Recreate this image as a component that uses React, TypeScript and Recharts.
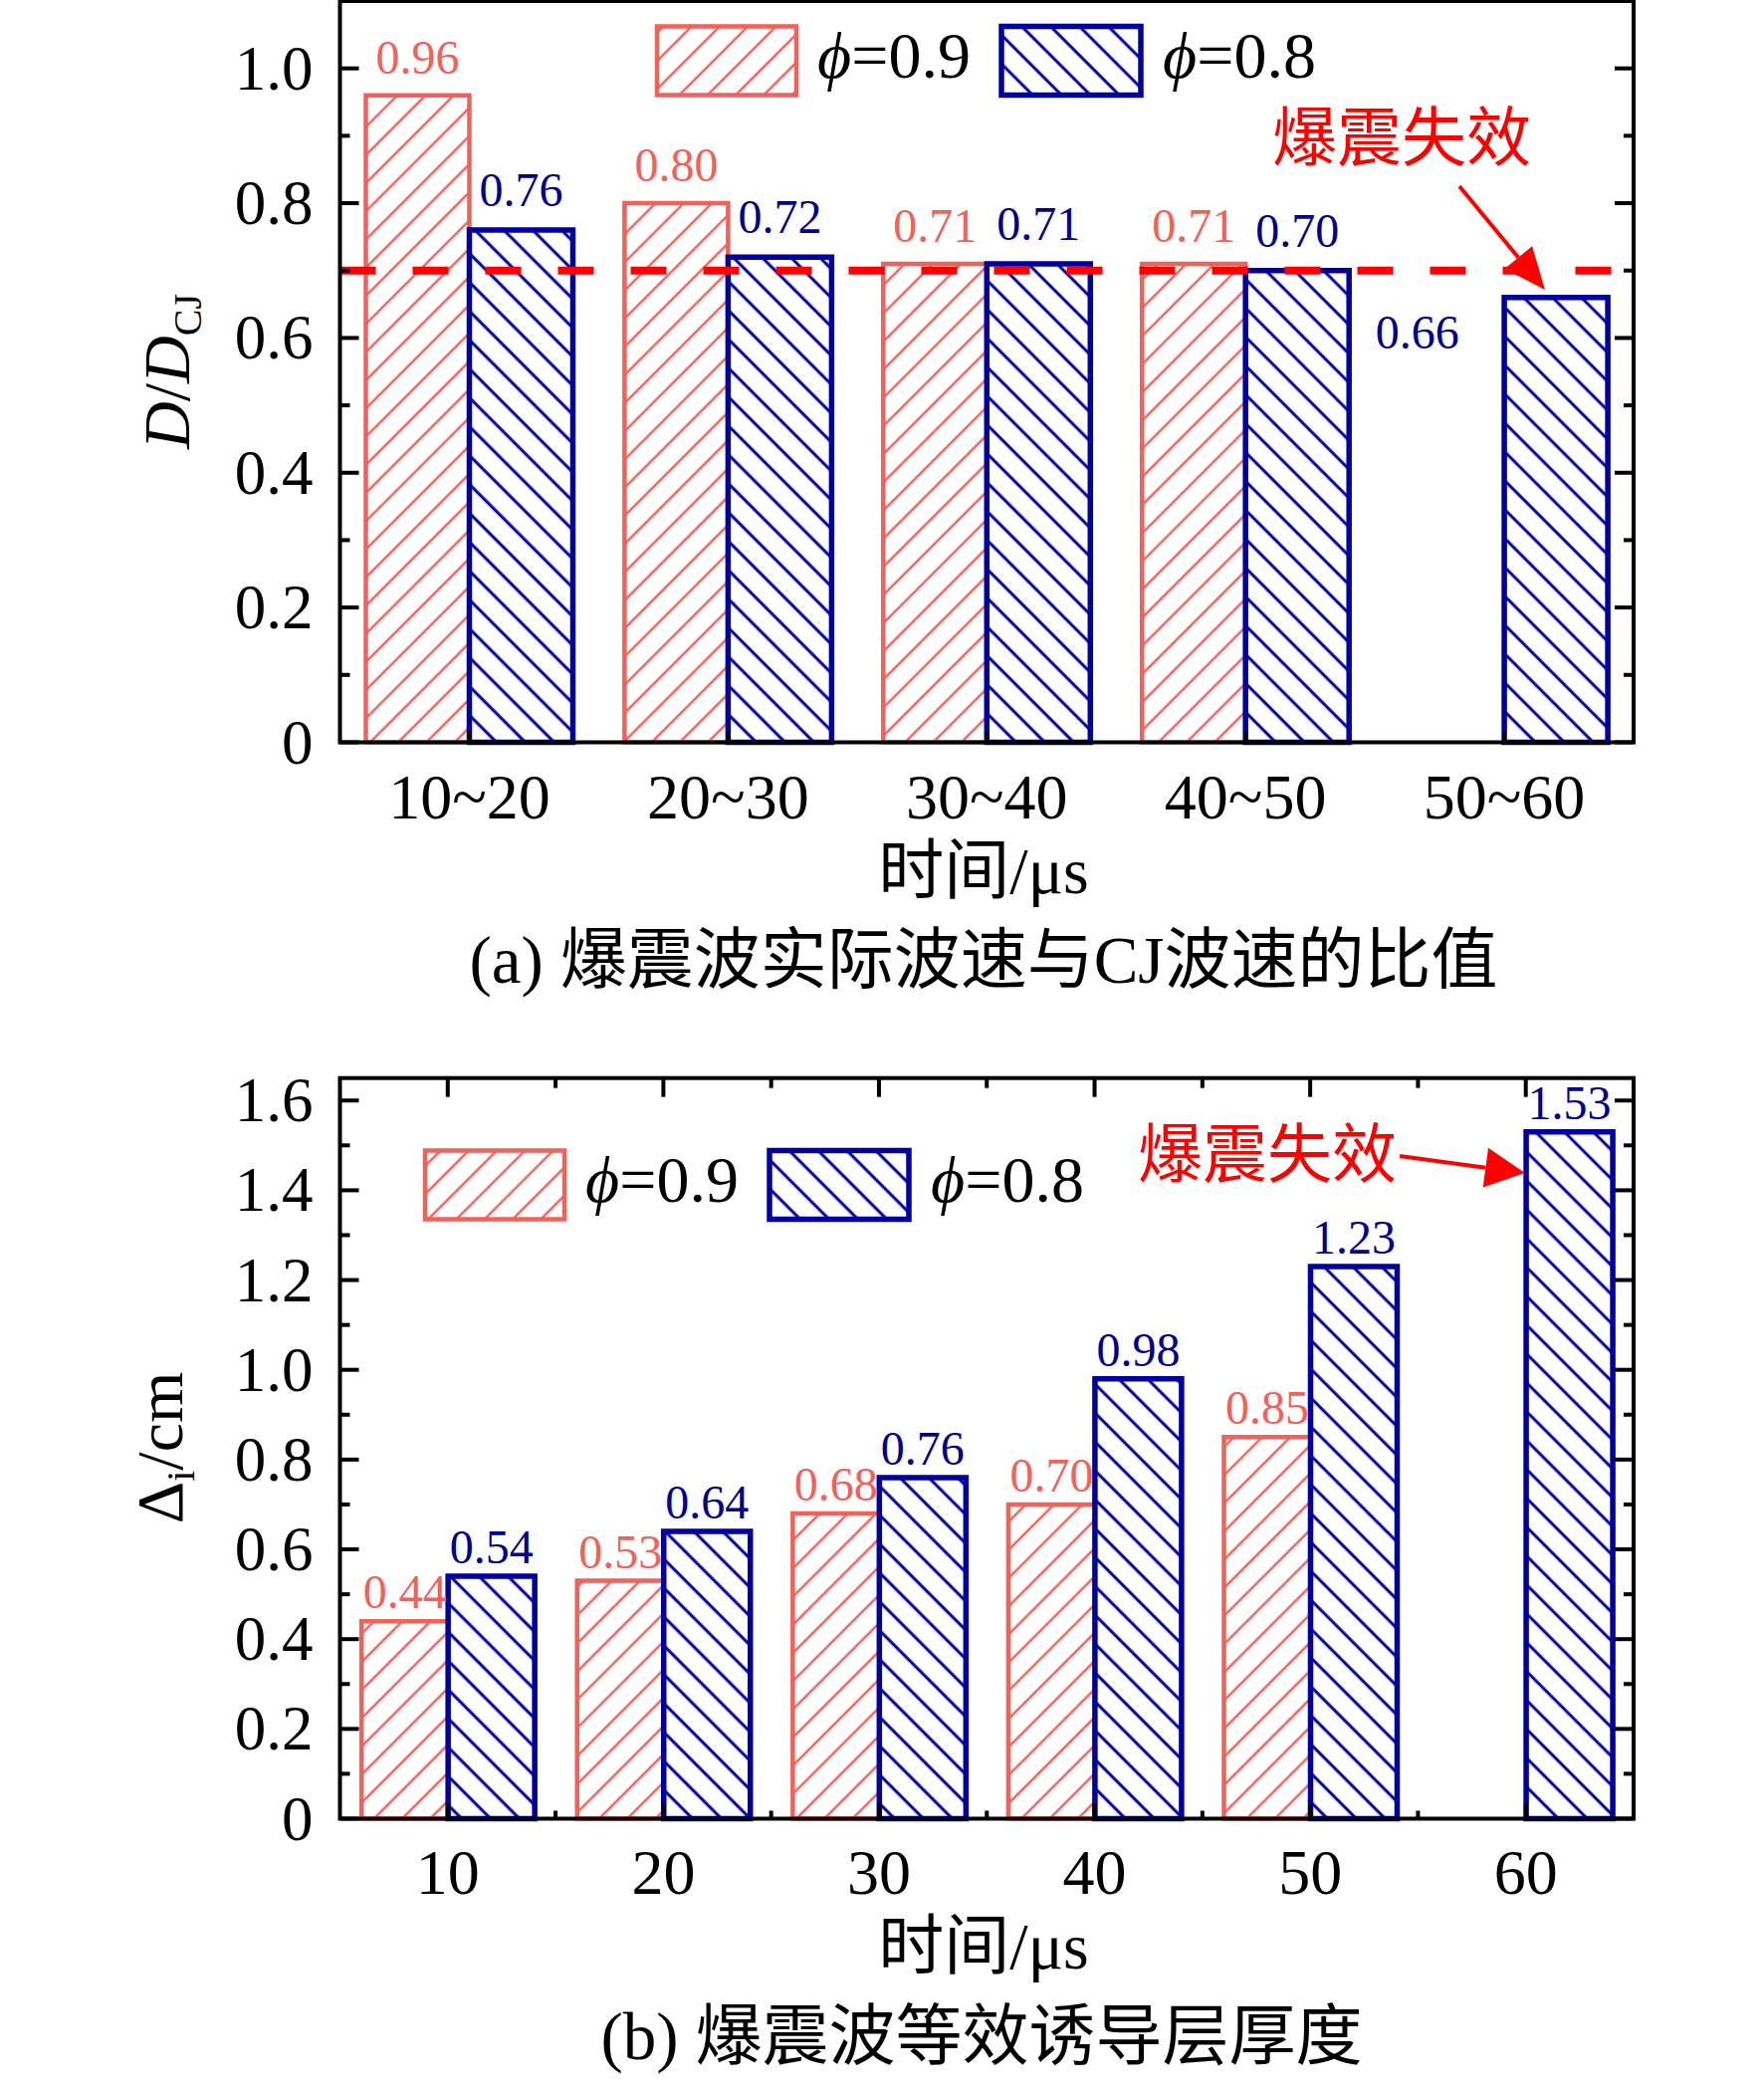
import { BarChart, Bar, XAxis, YAxis, ReferenceLine, LabelList } from 'recharts';

// ---- data ----
const catsA = ['10~20', '20~30', '30~40', '40~50', '50~60'];
const phi09A = [0.96, 0.80, 0.71, 0.71, null];
const phi08A = [0.76, 0.72, 0.71, 0.70, 0.66];
const majorTicksA = [0, 0.2, 0.4, 0.6, 0.8, 1.0];
const minorTicksA = [0.1, 0.3, 0.5, 0.7, 0.9];
const failLineA = 0.7;

const catsB = ['10', '20', '30', '40', '50', '60'];
const phi09B = [0.44, 0.53, 0.68, 0.70, 0.85, null];
const phi08B = [0.54, 0.64, 0.76, 0.98, 1.23, 1.53];
const majorTicksB = [0, 0.2, 0.4, 0.6, 0.8, 1.0, 1.2, 1.4, 1.6];
const minorTicksB = [0.1, 0.3, 0.5, 0.7, 0.9, 1.1, 1.3, 1.5];

const dataA = catsA.map((cat, i) => ({ cat, phi09: phi09A[i], phi08: phi08A[i] }));
const dataB = catsB.map((cat, i) => ({ cat, phi09: phi09B[i], phi08: phi08B[i] }));

// ---- style / layout ----
const FONT = "'Liberation Serif', 'Times New Roman', 'Noto Sans CJK SC', serif";
const RED = '#F0625A';
const BLUE = '#0000A0';
const BLUE_TXT = '#00008B';
const ALERT = '#FF0000';
const PLOT_L = 341.5;
const PLOT_R = 1641;
const PLOT_W = PLOT_R - PLOT_L;
const Y_AXIS_W = 120;
const Y_GAP = 27;
const X_AXIS_H = 90;

const A_TOP = 1;
const A_BOTTOM = 745.5;
const B_OFFSET = 1000;
const B_TOP = 82.7;
const B_BOTTOM = 826.5;

const isMajor = (majors: number[], v: number) => majors.some((m) => Math.abs(m - v) < 1e-6);
const fmtTick = (v: number) => (v === 0 ? '0' : v.toFixed(1));

// left labels + inward ticks on both left and right frame
const yTick = (majors: number[]) => (props: any) => {
  const { x, y, payload } = props;
  const v = payload.value;
  const major = isMajor(majors, v);
  const ax = x + Y_GAP;
  const len = major ? 19 : 10;
  return (
    <g>
      <line x1={ax} y1={y} x2={ax + len} y2={y} stroke="#000" strokeWidth={4} />
      <line x1={PLOT_R} y1={y} x2={PLOT_R - len} y2={y} stroke="#000" strokeWidth={4} />
      {major && (
        <text x={x} y={y + 21} textAnchor="end" fontSize={63} fontFamily={FONT} fill="#000">
          {fmtTick(v)}
        </text>
      )}
    </g>
  );
};

const xTick =
  (n: number, majorLen: number, minorLen: number, labelDy: number, plotH: number, topTicks: boolean) =>
  (props: any) => {
    const { x, y, payload, index } = props;
    const half = PLOT_W / n / 2;
    const top = y - plotH;
    const inner = index < n - 1;
    return (
      <g>
        <line x1={x} y1={y} x2={x} y2={y - majorLen} stroke="#000" strokeWidth={4} />
        {minorLen > 0 && inner && (
          <line x1={x + half} y1={y} x2={x + half} y2={y - minorLen} stroke="#000" strokeWidth={4} />
        )}
        {topTicks && <line x1={x} y1={top} x2={x} y2={top + 19} stroke="#000" strokeWidth={4} />}
        {topTicks && inner && (
          <line x1={x + half} y1={top} x2={x + half} y2={top + 10} stroke="#000" strokeWidth={4} />
        )}
        <text x={x} y={y + labelDy} textAnchor="middle" fontSize={64} fontFamily={FONT} fill="#000">
          {payload.value}
        </text>
      </g>
    );
  };

const valueLabel = (color: string, above: number, partner?: (number | null)[]) => (props: any) => {
  const { x, y, width, value, index } = props;
  if (value == null) return null;
  let cx = x + width / 2;
  let by = y - above;
  if (partner && partner[index] == null) {
    // lone bar: value written beside it
    cx = x - width * 0.84;
    by = y + 51;
  }
  return (
    <text x={cx} y={by} textAnchor="middle" fontSize={48} fontFamily={FONT} fill={color}>
      {Number(value).toFixed(2)}
    </text>
  );
};

const Arrow = ({ x1, y1, x2, y2, head, halfW }: any) => {
  const len = Math.hypot(x2 - x1, y2 - y1);
  const ux = (x2 - x1) / len;
  const uy = (y2 - y1) / len;
  const bx = x2 - ux * head;
  const by = y2 - uy * head;
  const px = -uy;
  const py = ux;
  return (
    <g>
      <line x1={x1} y1={y1} x2={bx} y2={by} stroke={ALERT} strokeWidth={4} />
      <polygon
        points={`${x2},${y2} ${bx + px * halfW},${by + py * halfW} ${bx - px * halfW},${by - py * halfW}`}
        fill={ALERT}
      />
    </g>
  );
};

const LegendRow = ({ x, cy }: { x: number; cy: number }) => (
  <g fontFamily={FONT} fontSize={66} fill="#000">
    <rect x={x} y={cy - 34.5} width={140} height={69} fill="url(#hatchRed)" stroke={RED} strokeWidth={4.5} />
    <text x={x + 161} y={cy + 17}>
      <tspan fontStyle="italic">ϕ</tspan>=0.9
    </text>
    <rect x={x + 346} y={cy - 34.5} width={140} height={69} fill="url(#hatchBlue)" stroke={BLUE} strokeWidth={5.5} />
    <text x={x + 508} y={cy + 17}>
      <tspan fontStyle="italic">ϕ</tspan>=0.8
    </text>
  </g>
);

export default function App() {
  const hA = 860;
  const hB = 940;
  const ticksA = [...majorTicksA, ...minorTicksA].sort((a, b) => a - b);
  const ticksB = [...majorTicksB, ...minorTicksB].sort((a, b) => a - b);
  return (
    <div style={{ position: 'absolute', left: 0, top: 0, width: 1772, height: 2100, background: '#fff' }}>
      <svg width={0} height={0} style={{ position: 'absolute' }}>
        <defs>
          <pattern id="hatchRed" patternUnits="userSpaceOnUse" width={20} height={20} patternTransform="rotate(45)">
            <rect width={20} height={20} fill="#fff" />
            <line x1={10} y1={0} x2={10} y2={20} stroke={RED} strokeWidth={2.5} />
          </pattern>
          <pattern id="hatchBlue" patternUnits="userSpaceOnUse" width={20.5} height={20.5} patternTransform="rotate(-45)">
            <rect width={20.5} height={20.5} fill="#fff" />
            <line x1={10} y1={0} x2={10} y2={20.5} stroke={BLUE} strokeWidth={3} />
          </pattern>
        </defs>
      </svg>

      {/* (a) */}
      <div style={{ position: 'absolute', left: 0, top: 0 }}>
        <BarChart
          width={1772}
          height={hA}
          data={dataA}
          margin={{ top: A_TOP, left: PLOT_L - Y_AXIS_W, right: 1772 - PLOT_R, bottom: hA - A_BOTTOM - X_AXIS_H }}
          barCategoryGap="10%"
          barGap={0}
        >
          <XAxis
            dataKey="cat"
            height={X_AXIS_H}
            interval={0}
            tickSize={0}
            tickMargin={0}
            tickLine={false}
            axisLine={false}
            tick={xTick(catsA.length, 11, 0, 76, A_BOTTOM - A_TOP, false)}
          />
          <YAxis
            type="number"
            domain={[0, 1.1]}
            ticks={ticksA}
            interval={0}
            width={Y_AXIS_W}
            tickSize={0}
            tickMargin={Y_GAP}
            tickLine={false}
            axisLine={false}
            tick={yTick(majorTicksA)}
          />
          <Bar dataKey="phi09" fill="url(#hatchRed)" stroke={RED} strokeWidth={4.5} isAnimationActive={false}>
            <LabelList dataKey="phi09" content={valueLabel(RED, 22)} />
          </Bar>
          <Bar dataKey="phi08" fill="url(#hatchBlue)" stroke={BLUE} strokeWidth={5.5} isAnimationActive={false}>
            <LabelList dataKey="phi08" content={valueLabel(BLUE_TXT, 24, phi09A)} />
          </Bar>
          <ReferenceLine y={failLineA} stroke={ALERT} strokeWidth={8} strokeDasharray="36 37" />
        </BarChart>
      </div>

      {/* (b) */}
      <div style={{ position: 'absolute', left: 0, top: B_OFFSET }}>
        <BarChart
          width={1772}
          height={hB}
          data={dataB}
          margin={{ top: B_TOP, left: PLOT_L - Y_AXIS_W, right: 1772 - PLOT_R, bottom: hB - B_BOTTOM - X_AXIS_H }}
          barCategoryGap="10%"
          barGap={0}
        >
          <XAxis
            dataKey="cat"
            height={X_AXIS_H}
            interval={0}
            tickSize={0}
            tickMargin={0}
            tickLine={false}
            axisLine={false}
            tick={xTick(catsB.length, 15, 8, 75, B_BOTTOM - B_TOP, true)}
          />
          <YAxis
            type="number"
            domain={[0, 1.65]}
            ticks={ticksB}
            interval={0}
            width={Y_AXIS_W}
            tickSize={0}
            tickMargin={Y_GAP}
            tickLine={false}
            axisLine={false}
            tick={yTick(majorTicksB)}
          />
          <Bar dataKey="phi09" fill="url(#hatchRed)" stroke={RED} strokeWidth={4.5} isAnimationActive={false}>
            <LabelList dataKey="phi09" content={valueLabel(RED, 13)} />
          </Bar>
          <Bar dataKey="phi08" fill="url(#hatchBlue)" stroke={BLUE} strokeWidth={5.5} isAnimationActive={false}>
            <LabelList dataKey="phi08" content={valueLabel(BLUE_TXT, 13)} />
          </Bar>
        </BarChart>
      </div>

      {/* frames, titles, legends, annotations */}
      <svg width={1772} height={2100} style={{ position: 'absolute', left: 0, top: 0, pointerEvents: 'none' }}>
        <rect x={PLOT_L} y={A_TOP} width={PLOT_W} height={A_BOTTOM - A_TOP} fill="none" stroke="#000" strokeWidth={4} />
        <rect
          x={PLOT_L}
          y={B_OFFSET + B_TOP}
          width={PLOT_W}
          height={B_BOTTOM - B_TOP}
          fill="none"
          stroke="#000"
          strokeWidth={4}
        />
        <g fontFamily={FONT} fill="#000">
          <text x={190} y={373} fontSize={66} textAnchor="middle" transform="rotate(-90 190 373)">
            <tspan fontStyle="italic">D</tspan>/<tspan fontStyle="italic">D</tspan>
            <tspan fontSize={40} dy={12}>CJ</tspan>
          </text>
          <text x={988} y={897} fontSize={66} textAnchor="middle">时间/μs</text>
          <text x={988} y={987} fontSize={67} textAnchor="middle">(a) 爆震波实际波速与CJ波速的比值</text>

          <text x={183} y={1454} fontSize={66} textAnchor="middle" transform="rotate(-90 183 1454)">
            Δ<tspan fontSize={40} dy={12}>i</tspan>
            <tspan dy={-12}>/cm</tspan>
          </text>
          <text x={988} y={1977} fontSize={66} textAnchor="middle">时间/μs</text>
          <text x={986} y={2068} fontSize={67} textAnchor="middle">(b) 爆震波等效诱导层厚度</text>
        </g>

        <LegendRow x={660} cy={61} />
        <LegendRow x={427} cy={1190} />

        <text x={1408} y={161} fontSize={65} textAnchor="middle" fontFamily={FONT} fill={ALERT}>爆震失效</text>
        <Arrow x1={1466} y1={187} x2={1552} y2={291} head={42} halfW={18} />

        <text x={1273} y={1182} fontSize={65} textAnchor="middle" fontFamily={FONT} fill={ALERT}>爆震失效</text>
        <Arrow x1={1406} y1={1161} x2={1532} y2={1178} head={40} halfW={20} />
      </svg>
    </div>
  );
}
